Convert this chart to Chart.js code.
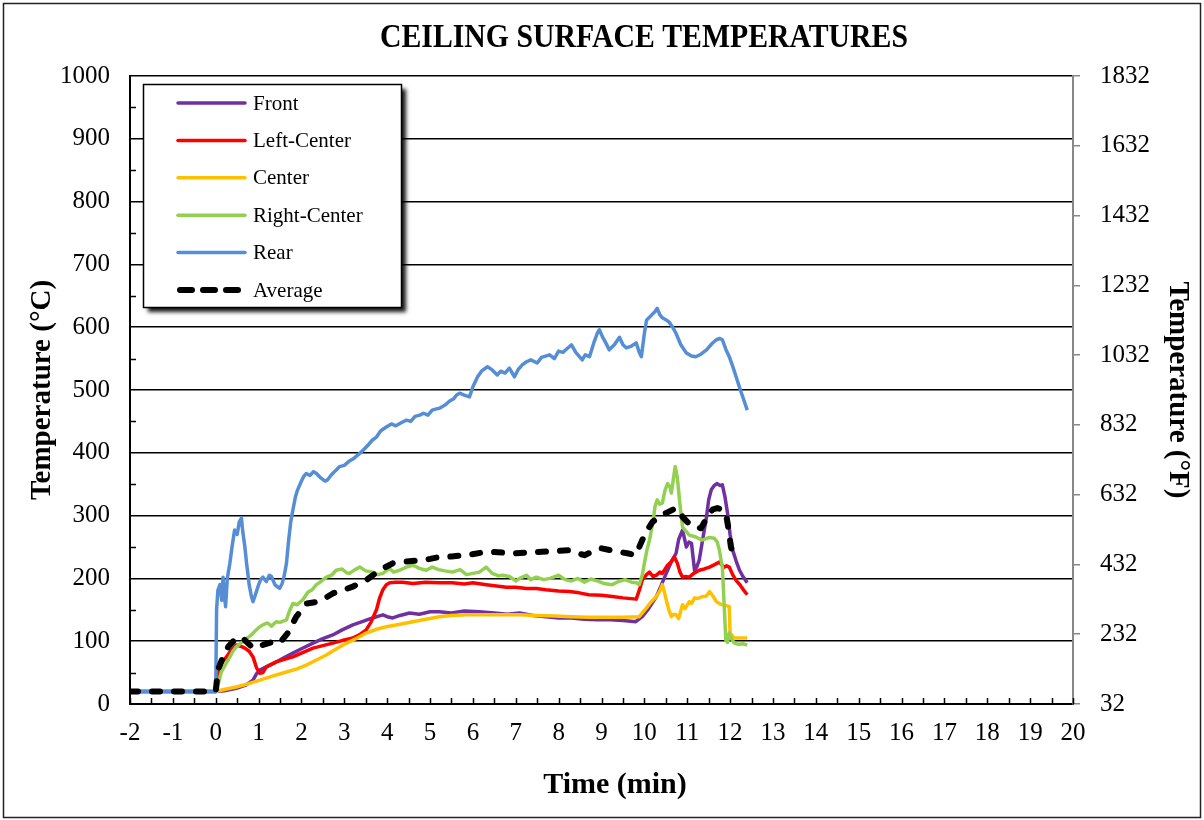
<!DOCTYPE html>
<html><head><meta charset="utf-8">
<script src="https://cdn.jsdelivr.net/npm/chart.js@4.4.1/dist/chart.umd.min.js"></script>
<style>html,body{margin:0;padding:0;background:#fff;}#wrap{width:1204px;height:820px;position:relative;}</style>
</head><body><div id="wrap"><canvas id="c" width="1204" height="820" style="width:1204px;height:820px"></canvas></div>
<script>
const chartTitle = 'CEILING SURFACE TEMPERATURES';
const xTitle = 'Time (min)';
const yTitle = 'Temperature (°C)';
const y2Title = 'Temperature (°F)';
const seriesNames = ['Front','Left-Center','Center','Right-Center','Rear','Average'];
const seriesColors = ['#7030A0','#FF0000','#FFC000','#92D050','#558ED5','#000000'];

const frontT = [-2,0,0.2,0.48,0.7,0.87,0.95,1.03,1.2,1.41,1.6,1.8,2.0,2.27,2.5,2.73,2.95,3.2,3.45,3.66,3.8,3.9,4.0,4.13,4.3,4.52,4.75,5.0,5.22,5.5,5.8,6.15,6.5,6.8,7.09,7.4,7.7,8.0,8.3,8.6,8.9,9.2,9.5,9.8,9.95,10.1,10.28,10.4,10.51,10.62,10.74,10.8,10.89,10.94,10.98,11.04,11.1,11.17,11.22,11.28,11.36,11.45,11.5,11.56,11.63,11.7,11.76,11.82,11.88,11.94,12.0,12.06,12.14,12.22,12.3,12.4];
const frontV = [20,20,21,25,30,38,48,54,60,67,74,81,88,97,104,110,118,126,132,137,140,142,139,137,141,145,143,147,147,145,148,147,145,143,145,141,139,137,137,135,134,134,133,131,139,152,171,190,208,225,240,262,277,262,250,258,256,213,218,229,262,298,325,341,348,351,348,349,330,304,270,245,228,213,203,193];

const leftT = [-2,0,0.04,0.09,0.17,0.25,0.35,0.48,0.58,0.68,0.78,0.87,0.95,1.03,1.1,1.18,1.3,1.41,1.6,1.8,2.0,2.27,2.5,2.73,2.95,3.2,3.35,3.51,3.62,3.75,3.82,3.9,3.98,4.06,4.2,4.36,4.6,4.9,5.2,5.52,5.8,6.0,6.31,6.55,6.78,7.0,7.25,7.48,7.7,8.0,8.25,8.48,8.7,9.0,9.25,9.5,9.81,9.9,9.95,10.05,10.12,10.2,10.28,10.36,10.42,10.54,10.62,10.7,10.77,10.83,10.89,10.97,11.05,11.15,11.28,11.4,11.52,11.64,11.75,11.8,11.86,11.92,11.98,12.06,12.14,12.25,12.33,12.4];
const leftV = [20,20,40,59,68,75,85,94,92,89,84,75,58,49,50,59,63,67,71,75,81,89,93,97,101,105,110,118,130,150,168,182,190,193,194,194,192,194,193,193,191,193,190,188,186,186,184,184,182,180,179,177,174,173,171,169,167,185,197,206,210,203,205,210,208,221,226,234,224,210,202,203,202,208,213,215,218,222,226,222,218,220,218,206,197,188,180,174];

const centerT = [-2,0,0.2,0.48,0.75,1.03,1.3,1.65,1.9,2.11,2.35,2.58,2.8,3.05,3.3,3.51,3.75,3.98,4.3,4.6,4.9,5.22,5.5,5.85,6.2,6.6,7.09,7.5,7.9,8.3,8.7,9.1,9.5,9.88,10.05,10.15,10.28,10.36,10.42,10.46,10.51,10.57,10.63,10.68,10.74,10.8,10.89,10.95,11.05,11.1,11.17,11.25,11.35,11.45,11.52,11.6,11.68,11.75,11.82,11.9,11.98,12.0,12.06,12.1,12.25,12.4];
const centerV = [20,20,23,27,32,38,44,51,56,62,70,78,87,97,105,113,119,123,127,131,135,139,141,142,142,142,142,141,140,139,138,138,138,139,153,162,171,180,190,180,166,150,139,143,142,136,158,152,163,160,169,168,171,172,179,172,163,160,158,157,155,113,108,105,105,105];

const rightT = [-2,0,0.04,0.13,0.22,0.33,0.4,0.48,0.55,0.63,0.72,0.83,0.93,1.03,1.1,1.21,1.3,1.41,1.5,1.65,1.72,1.8,1.9,2.03,2.15,2.25,2.35,2.45,2.58,2.7,2.81,2.95,3.05,3.12,3.25,3.36,3.5,3.66,3.78,3.9,4.05,4.15,4.29,4.45,4.6,4.75,4.91,5.05,5.2,5.35,5.52,5.7,5.85,6.0,6.15,6.31,6.45,6.6,6.69,6.85,7.0,7.09,7.25,7.35,7.48,7.65,7.8,8.0,8.15,8.3,8.45,8.6,8.75,8.9,9.05,9.25,9.4,9.55,9.7,9.81,9.88,9.95,10.0,10.06,10.12,10.2,10.25,10.3,10.36,10.42,10.48,10.54,10.6,10.63,10.68,10.72,10.77,10.82,10.86,10.89,10.97,11.05,11.2,11.35,11.5,11.63,11.7,11.75,11.8,11.82,11.86,11.9,11.94,11.98,12.03,12.1,12.2,12.3,12.4];
const rightV = [20,20,27,51,62,75,84,91,95,99,104,110,117,123,126,129,124,131,130,134,148,160,158,166,178,182,190,195,202,205,213,215,209,208,214,218,212,210,206,208,216,210,213,218,221,216,213,218,214,212,210,214,206,208,210,218,208,204,205,203,196,200,205,198,202,198,200,205,198,196,200,194,199,196,192,190,195,198,194,193,190,205,224,245,261,290,315,325,318,320,340,351,345,336,360,378,360,325,300,282,275,269,266,261,265,264,258,245,225,218,160,102,98,113,104,97,95,96,94];

const rearT = [-2,-1,0,0.02,0.05,0.1,0.14,0.17,0.2,0.23,0.27,0.33,0.38,0.44,0.5,0.55,0.6,0.63,0.68,0.72,0.78,0.83,0.87,0.93,1.0,1.05,1.1,1.18,1.25,1.3,1.38,1.45,1.49,1.55,1.6,1.65,1.7,1.75,1.8,1.86,1.91,2.0,2.05,2.11,2.2,2.28,2.35,2.45,2.55,2.61,2.7,2.8,2.89,3.0,3.1,3.2,3.36,3.45,3.55,3.65,3.75,3.85,3.98,4.1,4.2,4.36,4.45,4.55,4.65,4.76,4.85,4.95,5.05,5.15,5.22,5.35,5.45,5.55,5.62,5.69,5.8,5.92,6.0,6.11,6.2,6.34,6.45,6.57,6.65,6.75,6.85,6.97,7.05,7.15,7.25,7.35,7.5,7.6,7.79,7.9,8.0,8.1,8.2,8.3,8.4,8.55,8.62,8.72,8.82,8.9,8.95,9.02,9.1,9.18,9.3,9.42,9.5,9.58,9.7,9.81,9.88,9.93,10.0,10.05,10.15,10.25,10.3,10.36,10.42,10.5,10.58,10.66,10.74,10.85,10.98,11.1,11.2,11.32,11.45,11.58,11.68,11.76,11.82,11.9,11.98,12.06,12.14,12.25,12.33,12.4];
const rearV = [20,20,20,150,181,190,165,202,175,155,200,224,250,277,270,290,296,275,250,224,190,172,163,175,190,198,202,195,205,203,190,186,184,192,205,224,260,290,309,330,341,355,362,367,364,370,367,360,355,357,365,372,378,380,386,390,399,405,412,420,425,435,441,446,443,449,452,450,458,460,463,460,468,470,471,476,482,486,492,495,492,489,505,521,530,537,532,524,530,527,535,521,532,540,545,548,543,552,556,550,562,560,566,572,560,548,556,553,575,590,596,585,575,564,572,584,572,567,570,575,560,553,590,611,618,625,630,620,615,612,608,600,590,572,559,554,553,557,564,574,580,582,580,565,553,538,521,498,482,468];

const avgT = [-2,0,0.05,0.17,0.3,0.44,0.6,0.75,0.87,1.0,1.1,1.33,1.49,1.68,1.88,2.11,2.42,2.73,3.0,3.2,3.51,3.82,4.13,4.45,4.76,5.0,5.22,5.5,5.85,6.2,6.46,6.75,7.0,7.25,7.48,7.8,8.25,8.45,8.6,8.8,8.99,9.2,9.42,9.6,9.8,9.95,10.05,10.19,10.35,10.5,10.62,10.74,10.82,10.89,11.0,11.12,11.32,11.42,11.52,11.6,11.7,11.8,11.9,11.96,12.02,12.1];
const avgV = [20,20,54,75,92,102,107,97,89,92,94,99,97,113,139,160,163,176,182,187,197,213,224,227,229,231,234,235,237,241,242,241,240,241,242,243,245,240,237,243,248,245,242,240,237,261,275,290,298,304,308,312,305,298,290,282,280,292,304,310,312,310,304,280,250,234];

const xTicks = {min: -2, max: 20, step: 1};
const yTicks = {min: 0, max: 1000, step: 100};
const y2Ticks = {min: 32, max: 1832, step: 200};

const times = [frontT, leftT, centerT, rightT, rearT, avgT];
const values = [frontV, leftV, centerV, rightV, rearV, avgV];

const SERIF = '"Liberation Serif","Times New Roman",Times,serif';
Chart.defaults.font.family = SERIF;
Chart.defaults.color = '#000';

const datasets = seriesNames.map((name, i) => {
  const isAvg = name === 'Average';
  return {
    label: name,
    data: times[i].map((t, k) => ({x: t, y: values[i][k]})),
    borderColor: seriesColors[i],
    backgroundColor: seriesColors[i],
    borderWidth: isAvg ? 6 : 3.5,
    borderDash: isAvg ? [8, 14] : [],
    borderCapStyle: isAvg ? 'round' : 'butt',
    borderJoinStyle: 'round',
    pointRadius: 0,
    tension: 0,
    fill: false,
    order: seriesNames.length - i,
    yAxisID: 'y'
  };
});

const plain = v => String(v);

const decor = {
  id: 'decor',
  beforeDraw(chart) {
    const ctx = chart.ctx;
    ctx.save();
    ctx.fillStyle = '#fff';
    ctx.fillRect(0, 0, chart.width, chart.height);
    ctx.restore();
  },
  beforeDatasetsDraw(chart) {
    const ctx = chart.ctx, xs = chart.scales.x, ys = chart.scales.y;
    const a = chart.chartArea;
    ctx.save();
    ctx.strokeStyle = '#000';
    ctx.lineWidth = 1.5;
    ctx.beginPath();
    for (let v = xTicks.min; v <= xTicks.max + 1e-9; v += xTicks.step / 2) {
      const px = Math.round(xs.getPixelForValue(v)) + 0.5;
      ctx.moveTo(px, a.bottom);
      ctx.lineTo(px, a.bottom - 6);
    }
    for (let v = yTicks.min + yTicks.step / 2; v < yTicks.max; v += yTicks.step) {
      const py = Math.round(ys.getPixelForValue(v)) + 0.5;
      ctx.moveTo(a.left, py);
      ctx.lineTo(a.left + 6, py);
    }
    ctx.stroke();
    ctx.restore();
  },
  afterDraw(chart) {
    const ctx = chart.ctx;
    ctx.save();
    ctx.strokeStyle = '#222';
    ctx.lineWidth = 1.5;
    ctx.strokeRect(3.5, 3.5, chart.width - 7, chart.height - 6);
    ctx.font = 'bold 34px ' + SERIF;
    ctx.fillStyle = '#000';
    ctx.textBaseline = 'alphabetic';
    ctx.textAlign = 'center';
    const w = ctx.measureText(chartTitle).width;
    const target = 528;
    ctx.save();
    ctx.translate(644, 47);
    ctx.scale(target / w, 1);
    ctx.fillText(chartTitle, 0, 0);
    ctx.restore();
    ctx.font = 'bold 30px ' + SERIF;
    ctx.textAlign = 'center';
    ctx.fillText(xTitle, 615, 793);
    const L = 143, T = 84, W = 258, H = 223;
    ctx.save();
    ctx.shadowColor = 'rgba(0,0,0,0.9)';
    ctx.shadowBlur = 4;
    ctx.shadowOffsetX = 5;
    ctx.shadowOffsetY = 5;
    ctx.fillStyle = '#fff';
    ctx.fillRect(L, T, W, H);
    ctx.restore();
    ctx.strokeStyle = '#000';
    ctx.lineWidth = 1.5;
    ctx.strokeRect(L + 0.5, T + 0.5, W, H);
    ctx.font = '21px ' + SERIF;
    ctx.textAlign = 'left';
    ctx.textBaseline = 'middle';
    chart.data.datasets.forEach((ds, i) => {
      const y = 103 + i * 37.4;
      ctx.save();
      ctx.strokeStyle = ds.borderColor;
      ctx.beginPath();
      if (ds.label === 'Average') {
        ctx.lineWidth = 6;
        ctx.lineCap = 'round';
        ctx.setLineDash([12, 11]);
        ctx.moveTo(180, y);
        ctx.lineTo(245, y);
      } else {
        ctx.lineWidth = 3.5;
        ctx.lineCap = 'round';
        ctx.moveTo(178, y);
        ctx.lineTo(245, y);
      }
      ctx.stroke();
      ctx.restore();
      ctx.fillStyle = '#000';
      ctx.fillText(ds.label, 253, y + 1);
    });
    ctx.restore();
  }
};

new Chart(document.getElementById('c'), {
  type: 'line',
  data: {datasets},
  options: {
    responsive: false,
    devicePixelRatio: 1,
    animation: false,
    layout: {padding: {top: 76, left: 0, right: 0, bottom: 0}},
    plugins: {legend: {display: false}, title: {display: false}, tooltip: {enabled: false}},
    scales: {
      x: {
        type: 'linear',
        min: xTicks.min, max: xTicks.max,
        ticks: {stepSize: xTicks.step, font: {size: 25}, padding: 14, maxRotation: 0, autoSkip: false, callback: plain},
        grid: {display: true, drawOnChartArea: false, drawTicks: false},
        border: {display: true, color: '#000', width: 2},
        afterFit(s) { s.height = 116; }
      },
      y: {
        type: 'linear', position: 'left',
        min: yTicks.min, max: yTicks.max,
        ticks: {stepSize: yTicks.step, font: {size: 25}, padding: 20, callback: plain},
        grid: {display: true, drawOnChartArea: true, drawTicks: false, color: '#000', lineWidth: 1.5},
        border: {display: true, color: '#000', width: 2},
        title: {display: true, text: yTitle, font: {size: 29, weight: 'bold'}, padding: {top: 25, bottom: 0}},
        afterFit(s) { s.width = 130; }
      },
      y2: {
        type: 'linear', position: 'right',
        min: y2Ticks.min, max: y2Ticks.max,
        ticks: {stepSize: y2Ticks.step, font: {size: 25}, padding: 20, callback: plain},
        grid: {display: true, drawOnChartArea: false, drawTicks: true, tickLength: 7, color: '#888', lineWidth: 1.5},
        border: {display: true, color: '#888', width: 2},
        title: {display: true, text: y2Title, font: {size: 29, weight: 'bold'}, padding: {top: 9, bottom: 0}},
        afterFit(s) { s.width = 131; }
      }
    }
  },
  plugins: [decor]
});
</script>
</body></html>
